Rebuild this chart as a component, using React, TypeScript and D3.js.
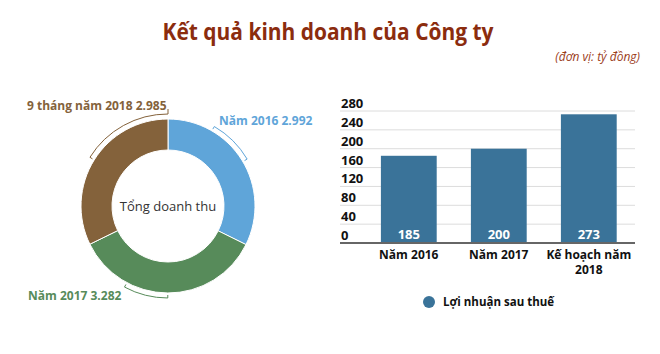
import { useMemo } from "react";
import * as d3 from "d3";

// Doanh thu (pie)
const revenueLabels = ["Năm 2016", "Năm 2017", "9 tháng năm 2018"];
const revenueValues = [2992, 3282, 2985];
const revenueColors = ["#5fa5d9", "#578b5a", "#84623b"];

// Lợi nhuận (bars)
const profitCategories = [["Năm 2016"], ["Năm 2017"], ["Kế hoạch năm", "2018"]];
const profitValues = [185, 200, 273];
const profitTicks = [0, 40, 80, 120, 160, 200, 240, 280];

const FONT = "'Open Sans', 'Noto Sans', sans-serif";
const fmtVN = (v: number) => d3.format(",")(v).replace(/,/g, ".");

const Donut = () => {
  const cx = 168;
  const cy = 206;
  const outer = 87;
  const inner = 56;

  const arcs = useMemo(() => {
    const pie = d3.pie<number>().sort(null).value((d) => d);
    return pie(revenueValues);
  }, []);

  const arcGen = d3.arc<d3.PieArcDatum<number>>().innerRadius(inner).outerRadius(outer);

  // part of each slice that the label bracket covers
  const brackets = [
    { from: 0.26, to: 0.51 },
    { from: 0.5, to: 0.72 },
    { from: 0.5, to: 1.0 },
  ];

  const labelPos = [
    { x: 219, y: 125 },
    { x: 28, y: 300 },
    { x: 27, y: 110 },
  ];

  const rb = outer + 5;

  return (
    <g>
      {arcs.map((a, i) => (
        <path
          key={i}
          d={arcGen(a) ?? undefined}
          transform={`translate(${cx},${cy})`}
          fill={revenueColors[i]}
          stroke="#fff"
          strokeWidth={1}
        />
      ))}
      {arcs.map((a, i) => {
        const span = a.endAngle - a.startAngle;
        const s = a.startAngle + span * brackets[i].from;
        const e = a.startAngle + span * brackets[i].to;
        const path = d3.path();
        path.moveTo(Math.sin(s) * (rb - 3), -Math.cos(s) * (rb - 3));
        path.lineTo(Math.sin(s) * rb, -Math.cos(s) * rb);
        path.arc(0, 0, rb, s - Math.PI / 2, e - Math.PI / 2, false);
        // the last bracket ends with a short tick up towards its label
        const tickR = i === 2 ? rb + 5 : rb - 3;
        path.lineTo(Math.sin(e) * tickR, -Math.cos(e) * tickR);
        return (
          <path
            key={i}
            d={path.toString()}
            transform={`translate(${cx},${cy})`}
            fill="none"
            stroke={revenueColors[i]}
            strokeWidth={1}
          />
        );
      })}
      {revenueLabels.map((l, i) => (
        <text
          key={i}
          x={labelPos[i].x}
          y={labelPos[i].y}
          fill={revenueColors[i]}
          fontWeight={700}
          fontSize={12}
          fontFamily={FONT}
        >
          {l} {fmtVN(revenueValues[i])}
        </text>
      ))}
      <text
        x={cx}
        y={cy + 5}
        textAnchor="middle"
        fontSize={13}
        fill="#333"
        fontFamily={FONT}
      >
        Tổng doanh thu
      </text>
    </g>
  );
};

const Bars = () => {
  const gridLeft = 340;
  const gridRight = 635;
  const top = 111;
  const base = 243;

  const x = d3
    .scaleBand<number>()
    .domain(profitValues.map((_, i) => i))
    .range([353, 644.6])
    .paddingInner(0.38)
    .paddingOuter(0.31);
  const y = d3.scaleLinear().domain([0, 280]).range([base, top]);

  return (
    <g fontFamily={FONT}>
      {profitTicks.map((t) => (
        <g key={t}>
          {t > 0 && (
            <line x1={gridLeft} x2={gridRight} y1={y(t)} y2={y(t)} stroke="#dcdcdc" strokeWidth={1} />
          )}
          <text x={341} y={y(t) - 3} fontSize={13} fontWeight={700} fill="#111">
            {t}
          </text>
        </g>
      ))}
      {profitValues.map((v, i) => (
        <g key={i}>
          <rect x={x(i)} y={y(v)} width={x.bandwidth()} height={base - y(v)} fill="#3a7399" />
          <text
            x={(x(i) ?? 0) + x.bandwidth() / 2}
            y={base - 4}
            textAnchor="middle"
            fill="#fff"
            fontSize={13}
            fontWeight={700}
          >
            {v}
          </text>
          {profitCategories[i].map((line, j) => (
            <text
              key={j}
              x={(x(i) ?? 0) + x.bandwidth() / 2}
              y={259 + j * 14.5}
              textAnchor="middle"
              fontSize={12}
              fontWeight={700}
              fill="#111"
            >
              {line}
            </text>
          ))}
        </g>
      ))}
      <line x1={gridLeft} x2={gridRight} y1={base} y2={base} stroke="#666" strokeWidth={2} />
      <circle cx={429} cy={302} r={6} fill="#3a7399" />
      <text x={443} y={306} fontSize={11.5} fontWeight={700} fill="#111">
        Lợi nhuận sau thuế
      </text>
    </g>
  );
};

export default function App() {
  return (
    <svg
      width={660}
      height={354}
      viewBox="0 0 660 354"
      style={{ position: "absolute", left: 0, top: 0, background: "#fff" }}
    >
      <rect width={660} height={354} fill="#fff" />
      <text
        x={328}
        y={40}
        textAnchor="middle"
        fontSize={24}
        fontWeight={700}
        fill="#8b2c0e"
        fontFamily={FONT}
        textLength={331}
        lengthAdjust="spacingAndGlyphs"
      >
        Kết quả kinh doanh của Công ty
      </text>
      <text
        x={640}
        y={61}
        textAnchor="end"
        fontSize={12}
        fontStyle="italic"
        fill="#9b3c1a"
        fontFamily={FONT}
      >
        (đơn vị: tỷ đồng)
      </text>
      <Donut />
      <Bars />
    </svg>
  );
}
